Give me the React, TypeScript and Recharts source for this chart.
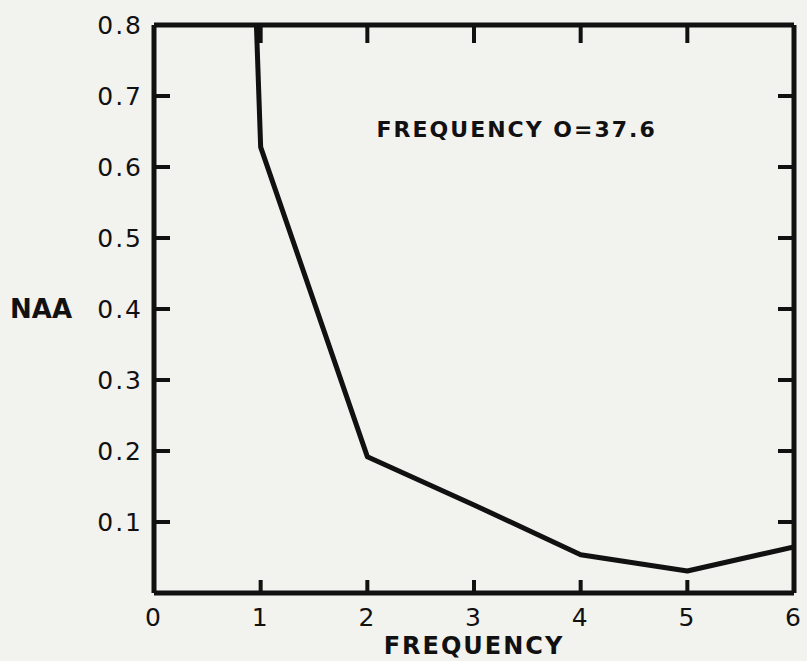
import { LineChart, Line, XAxis, YAxis, ReferenceDot } from "recharts";

// normalized acoustic amplitude vs frequency
const frequency = [0.96, 1, 2, 3, 4, 5, 6];
const naa = [0.8, 0.628, 0.192, 0.124, 0.054, 0.031, 0.065];

const xTicks = [0, 1, 2, 3, 4, 5, 6];
const yTicks = [0.1, 0.2, 0.3, 0.4, 0.5, 0.6, 0.7, 0.8];
const innerXTicks = [1, 2, 3, 4, 5];
const innerYTicks = [0.1, 0.2, 0.3, 0.4, 0.5, 0.6, 0.7];

const INK = "#111111";
const PAPER = "#f2f2ef";
const FONT = "'DejaVu Sans', sans-serif";
const TICK_LEN = 13;
const X_TICK_MARGIN = 15;

const data = frequency.map((f, i) => ({ f, naa: naa[i] }));

const tickStyle = { fill: INK, fontSize: 25, fontFamily: FONT, letterSpacing: 2 };
const noLabel = () => <g />;

// bottom axis: label below plus an inward tick mark above the axis line
function BottomTick(props: any) {
  const { x, y, payload } = props;
  const v = payload.value as number;
  const axisY = y - X_TICK_MARGIN;
  return (
    <g>
      {innerXTicks.includes(v) && (
        <line x1={x} x2={x} y1={axisY} y2={axisY - TICK_LEN} stroke={INK} strokeWidth={4} />
      )}
      <text x={x} y={y} dy="0.71em" textAnchor="middle" {...tickStyle}>
        {String(v)}
      </text>
    </g>
  );
}

export default function App() {
  return (
    <div style={{ position: "absolute", left: 0, top: 0, width: 807, height: 661, background: PAPER }}>
      <LineChart width={807} height={661} data={data} margin={{ top: 25, right: 13, bottom: 0, left: 0 }}>
        <XAxis
          xAxisId="top"
          type="number"
          dataKey="f"
          domain={[0, 6]}
          allowDataOverflow
          ticks={innerXTicks}
          orientation="top"
          mirror
          height={1}
          tick={noLabel}
          tickSize={18}
          axisLine={{ stroke: INK, strokeWidth: 5 }}
          tickLine={{ stroke: INK, strokeWidth: 4 }}
        />
        <XAxis
          xAxisId="x"
          type="number"
          dataKey="f"
          domain={[0, 6]}
          allowDataOverflow
          ticks={xTicks}
          height={68}
          tickSize={0}
          tickMargin={X_TICK_MARGIN}
          tick={<BottomTick />}
          axisLine={{ stroke: INK, strokeWidth: 5 }}
          tickLine={false}
          label={{
            value: "FREQUENCY",
            position: "insideBottom",
            offset: 7,
            fill: INK,
            fontSize: 24,
            fontWeight: "bold",
            fontFamily: FONT,
            letterSpacing: 2,
          }}
        />
        <YAxis
          yAxisId="lt"
          type="number"
          domain={[0, 0.8]}
          allowDataOverflow
          ticks={innerYTicks}
          orientation="left"
          mirror
          width={1}
          tick={noLabel}
          tickSize={16}
          axisLine={false}
          tickLine={{ stroke: INK, strokeWidth: 4 }}
        />
        <YAxis
          yAxisId="right"
          type="number"
          domain={[0, 0.8]}
          allowDataOverflow
          ticks={innerYTicks}
          orientation="right"
          mirror
          width={1}
          tick={noLabel}
          tickSize={16}
          axisLine={{ stroke: INK, strokeWidth: 5 }}
          tickLine={{ stroke: INK, strokeWidth: 4 }}
        />
        <YAxis
          yAxisId="y"
          type="number"
          domain={[0, 0.8]}
          allowDataOverflow
          ticks={yTicks}
          width={154}
          tickSize={0}
          tickMargin={11}
          tick={tickStyle}
          tickFormatter={(v: number) => v.toFixed(1)}
          axisLine={{ stroke: INK, strokeWidth: 5 }}
          tickLine={false}
          label={{
            value: "NAA",
            position: "insideLeft",
            offset: 10,
            angle: 0,
            fill: INK,
            fontSize: 26,
            fontWeight: "bold",
            fontFamily: FONT,
          }}
        />
        <ReferenceDot
          xAxisId="x"
          yAxisId="y"
          x={3.4}
          y={0.653}
          r={0}
          fill="none"
          stroke="none"
          label={{
            value: "FREQUENCY O=37.6",
            position: "center",
            fill: INK,
            fontSize: 22,
            fontWeight: "bold",
            fontFamily: FONT,
            letterSpacing: 2,
          }}
        />
        <Line
          xAxisId="x"
          yAxisId="y"
          type="linear"
          dataKey="naa"
          stroke={INK}
          strokeWidth={5}
          strokeLinejoin="round"
          dot={false}
          isAnimationActive={false}
        />
      </LineChart>
    </div>
  );
}
